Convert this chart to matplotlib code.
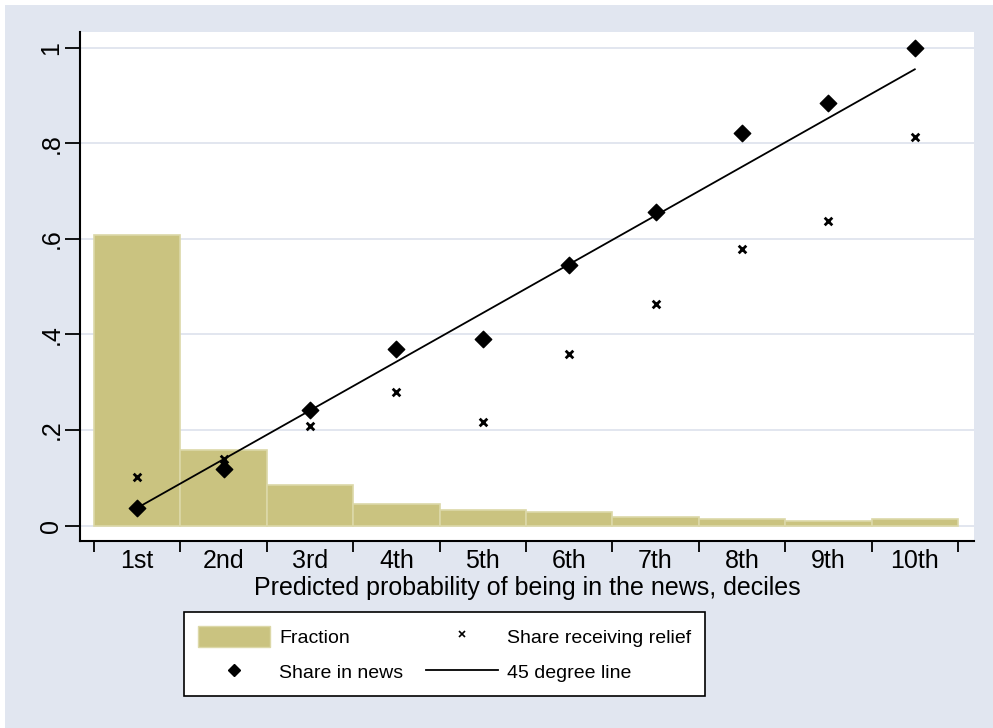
import numpy as np
import matplotlib.pyplot as plt
from matplotlib.patches import Rectangle
from matplotlib.lines import Line2D
from matplotlib.ticker import FixedLocator, NullFormatter

deciles = ['1st', '2nd', '3rd', '4th', '5th', '6th', '7th', '8th', '9th', '10th']
fraction = [0.608, 0.158, 0.084, 0.046, 0.032, 0.028, 0.018, 0.0145, 0.0105, 0.0145]
share_news = [0.037, 0.118, 0.242, 0.370, 0.390, 0.545, 0.657, 0.822, 0.885, 1.0]
share_relief = [0.101, 0.139, 0.208, 0.279, 0.216, 0.359, 0.464, 0.578, 0.637, 0.813]
line_x = [1, 10]
line_y = [0.037, 0.955]

BG = '#e1e6f0'
BAR = '#cac380'
BAR_EDGE = '#dcd8a8'
GRID = '#dfe4ee'
FONT = ['Liberation Sans', 'DejaVu Sans']

W, H = 993, 728
fig = plt.figure(figsize=(W / 100, H / 100), dpi=100)
fig.patch.set_facecolor('white')
fig.patches.append(Rectangle((5 / W, 0), 1 - 5 / W, 1 - 5 / H,
                             transform=fig.transFigure, facecolor=BG,
                             edgecolor='none', zorder=-5))

# plot region in pixels: left 80, right 974, top 32, bottom 541
ax = fig.add_axes([80 / W, 1 - 541 / H, (974 - 80) / W, (541 - 32) / H])
ax.set_facecolor('white')
ax.set_zorder(1)

x = np.arange(1, len(deciles) + 1)
ax.bar(x, fraction, width=1.0, color=BAR, edgecolor=BAR_EDGE, linewidth=1.2, zorder=2)
ax.plot(line_x, line_y, color='black', linewidth=1.3, zorder=3)
ax.scatter(x, share_news, marker='D', s=70, color='black', zorder=4)
ax.scatter(x, share_relief, marker='x', s=30, color='black', linewidths=2.0, zorder=4)

# bin width is 86.4 px, first edge sits 14 px right of the axis
ax.set_xlim(0.5 - 14 / 86.4, 0.5 + (974 - 94) / 86.4)
ax.set_ylim(-(541 - 525.6) / 477.8, 1 + (47.8 - 32) / 477.8)

# ticks on bin edges, labels at bin centres
ax.xaxis.set_major_locator(FixedLocator(np.arange(0.5, 11, 1.0)))
ax.xaxis.set_major_formatter(NullFormatter())
ax.xaxis.set_minor_locator(FixedLocator(x))
ax.set_xticklabels(deciles, minor=True, fontsize=18, family=FONT)
ax.tick_params(axis='x', which='major', length=8, width=1.3, color='black', direction='out')
ax.tick_params(axis='x', which='minor', length=0, pad=6)

yt = [0, 0.2, 0.4, 0.6, 0.8, 1.0]
ax.set_yticks(yt)
ax.set_yticklabels(['0', '.2', '.4', '.6', '.8', '1'], fontsize=18, family=FONT,
                   rotation=90, va='center')
ax.tick_params(axis='y', length=11, width=1.3, color='black', direction='out', pad=1)
ax.grid(axis='y', color=GRID, linewidth=1.3, zorder=0)
ax.set_axisbelow(True)

for s in ['top', 'right']:
    ax.spines[s].set_visible(False)
for s in ['left', 'bottom']:
    ax.spines[s].set_linewidth(1.5)

ax.set_xlabel('Predicted probability of being in the news, deciles', fontsize=18,
              family=FONT, labelpad=2)

handles = [
    Rectangle((0, 0), 1, 1, facecolor=BAR, edgecolor=BAR_EDGE),
    Line2D([], [], linestyle='none', marker='D', color='black', markersize=6),
    Line2D([], [], linestyle='none', marker='x', color='black', markersize=5,
           markeredgewidth=1.2),
    Line2D([], [], color='black', linewidth=1.3),
]
labels = ['Fraction', 'Share in news', 'Share receiving relief', '45 degree line']
leg = fig.legend(handles, labels, ncol=2, loc='upper left',
                 bbox_to_anchor=(184 / W, 1 - 612 / H), borderaxespad=0,
                 prop={'family': FONT, 'size': 14},
                 frameon=True, fancybox=False, edgecolor='black', framealpha=1,
                 handlelength=3.7, handleheight=1.3, columnspacing=1.15,
                 labelspacing=0.75, borderpad=0.7, handletextpad=0.5)
leg.get_frame().set_linewidth(1.2)

fig.savefig('out.png', dpi=100, facecolor=fig.get_facecolor())
